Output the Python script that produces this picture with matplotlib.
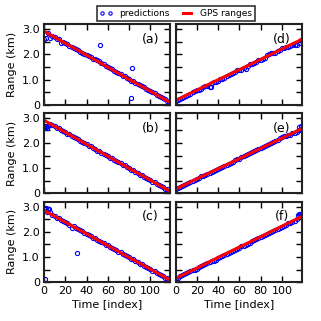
import matplotlib
matplotlib.use('Agg')
import matplotlib.pyplot as plt

# time index of sampled predictions (every 2nd index)
TIME = list(range(0, 120, 2))
# GPS range reference points
GPS_TIME = [0, 20, 40, 60, 80, 100, 120]

GPS_A = [2.92, 2.44, 1.97, 1.49, 1.01, 0.54, 0.06]
GPS_B = [2.90, 2.43, 1.95, 1.48, 1.00, 0.53, 0.05]
GPS_C = [2.85, 2.38, 1.92, 1.45, 0.98, 0.52, 0.05]
GPS_D = [0.17, 0.58, 0.99, 1.39, 1.80, 2.21, 2.62]
GPS_E = [0.17, 0.58, 0.98, 1.38, 1.79, 2.19, 2.60]
GPS_F = [0.15, 0.56, 0.98, 1.39, 1.80, 2.22, 2.63]

PRED_A = [2.62, 2.64, 2.83, 2.64, 2.74, 2.69, 2.62, 2.60, 2.45, 2.50,
          2.45, 2.41, 2.34, 2.31, 2.26, 2.21, 2.17, 2.10, 2.07, 2.02,
          1.96, 1.93, 1.88, 1.83, 1.80, 1.76, 1.72, 1.67, 1.61, 1.55,
          1.50, 1.45, 1.40, 1.34, 1.31, 1.26, 1.21, 1.15, 1.12, 1.07,
          1.02, 0.96, 0.93, 0.88, 0.83, 0.77, 0.74, 0.69, 0.64, 0.58,
          0.55, 0.50, 0.45, 0.40, 0.36, 0.31, 0.26, 0.21, 0.16, 0.11]
PRED_B = [2.60, 2.63, 2.66, 2.77, 2.72, 2.67, 2.61, 2.58, 2.53, 2.46,
          2.44, 2.37, 2.34, 2.27, 2.25, 2.18, 2.15, 2.08, 2.06, 1.99,
          1.96, 1.89, 1.87, 1.80, 1.77, 1.70, 1.68, 1.61, 1.58, 1.51,
          1.49, 1.42, 1.39, 1.32, 1.30, 1.23, 1.20, 1.13, 1.11, 1.04,
          1.01, 0.94, 0.92, 0.85, 0.82, 0.75, 0.73, 0.66, 0.63, 0.56,
          0.54, 0.47, 0.44, 0.37, 0.35, 0.28, 0.25, 0.18, 0.16, 0.09]
PRED_C = [2.93, 2.95, 2.92, 2.78, 2.68, 2.63, 2.55, 2.53, 2.47, 2.44,
          2.37, 2.35, 2.28, 2.14, 2.21, 2.14, 2.11, 2.05, 2.02, 1.95,
          1.93, 1.86, 1.83, 1.77, 1.74, 1.67, 1.65, 1.58, 1.55, 1.49,
          1.46, 1.39, 1.37, 1.30, 1.27, 1.21, 1.18, 1.11, 1.09, 1.02,
          0.99, 0.93, 0.90, 0.83, 0.81, 0.74, 0.71, 0.65, 0.62, 0.55,
          0.53, 0.46, 0.43, 0.37, 0.34, 0.27, 0.25, 0.18, 0.15, 0.09]
PRED_D = [0.15, 0.20, 0.24, 0.28, 0.31, 0.36, 0.40, 0.44, 0.49, 0.53,
          0.57, 0.60, 0.63, 0.69, 0.76, 0.74, 0.69, 0.85, 0.90, 0.92,
          0.96, 1.02, 1.04, 1.08, 1.12, 1.17, 1.20, 1.24, 1.30, 1.37,
          1.37, 1.39, 1.44, 1.40, 1.52, 1.61, 1.63, 1.66, 1.70, 1.76,
          1.79, 1.82, 1.85, 1.96, 2.01, 2.04, 2.04, 2.06, 2.12, 2.18,
          2.24, 2.26, 2.28, 2.30, 2.33, 2.38, 2.36, 2.37, 2.46, 2.55]
PRED_E = [0.16, 0.21, 0.25, 0.30, 0.34, 0.37, 0.41, 0.45, 0.51, 0.55,
          0.57, 0.61, 0.68, 0.70, 0.72, 0.77, 0.83, 0.87, 0.90, 0.93,
          0.98, 1.02, 1.06, 1.09, 1.13, 1.17, 1.21, 1.25, 1.31, 1.36,
          1.38, 1.43, 1.49, 1.54, 1.55, 1.59, 1.64, 1.70, 1.74, 1.78,
          1.81, 1.83, 1.88, 1.94, 1.97, 2.00, 2.04, 2.07, 2.14, 2.18,
          2.24, 2.26, 2.27, 2.30, 2.33, 2.38, 2.40, 2.45, 2.52, 2.57]
PRED_F = [0.13, 0.18, 0.23, 0.27, 0.31, 0.35, 0.39, 0.44, 0.47, 0.50,
          0.54, 0.60, 0.65, 0.69, 0.73, 0.77, 0.80, 0.85, 0.84, 0.89,
          0.97, 1.01, 1.05, 1.08, 1.11, 1.16, 1.19, 1.24, 1.28, 1.33,
          1.37, 1.42, 1.45, 1.49, 1.53, 1.57, 1.62, 1.67, 1.71, 1.74,
          1.78, 1.82, 1.86, 1.93, 1.95, 1.98, 2.02, 2.06, 2.10, 2.15,
          2.18, 2.23, 2.27, 2.33, 2.35, 2.39, 2.44, 2.50, 2.69, 2.68]

# extra (odd-index / outlier) predictions
EXTRA_T_A = [53, 83, 82]
EXTRA_R_A = [2.35, 1.44, 0.28]
EXTRA_T_B = [1, 3]
EXTRA_R_B = [2.66, 2.58]
EXTRA_T_C = [31, 1, 3, 5]
EXTRA_R_C = [1.14, 0.12, 2.80, 2.90]
EXTRA_T_D = [33]
EXTRA_R_D = [0.70]
EXTRA_T_E = [118, 116]
EXTRA_R_E = [2.68, 2.62]
EXTRA_T_F = [115, 117]
EXTRA_R_F = [2.68, 2.70]

LABELS = ['(a)', '(b)', '(c)', '(d)', '(e)', '(f)']
PANELS = [
    (GPS_A, PRED_A, EXTRA_T_A, EXTRA_R_A),
    (GPS_B, PRED_B, EXTRA_T_B, EXTRA_R_B),
    (GPS_C, PRED_C, EXTRA_T_C, EXTRA_R_C),
    (GPS_D, PRED_D, EXTRA_T_D, EXTRA_R_D),
    (GPS_E, PRED_E, EXTRA_T_E, EXTRA_R_E),
    (GPS_F, PRED_F, EXTRA_T_F, EXTRA_R_F),
]


def draw_panel(ax, gps, pred, extra_t, extra_r, label):
    ax.plot(TIME + extra_t, pred + extra_r, 'o', linestyle='none',
            markerfacecolor='none', markeredgecolor='blue',
            markersize=3.0, markeredgewidth=0.8, label='predictions')
    ax.plot(GPS_TIME, gps, color='red', linewidth=2.2, label='GPS ranges')
    ax.set_xlim(0, 119)
    ax.set_ylim(0, 3.2)
    ax.set_xticks([0, 20, 40, 60, 80, 100])
    ax.set_yticks([0, 0.5, 1.0, 1.5, 2.0, 2.5, 3.0])
    ax.set_yticklabels(['0', '', '1.0', '', '2.0', '', '3.0'])
    ax.tick_params(direction='in', top=True, right=True, length=4,
                   width=1, labelsize=8, pad=3)
    for s in ax.spines.values():
        s.set_linewidth(1.5)
        s.set_color('#222222')
    ax.text(0.84, 0.81, label, transform=ax.transAxes, fontsize=9,
            ha='center', va='center')


def main():
    fig, axes = plt.subplots(3, 2, figsize=(3.21, 3.21), dpi=100)
    fig.subplots_adjust(left=0.137, right=0.941, top=0.925, bottom=0.121,
                        wspace=0.04, hspace=0.1)

    for i, (gps, pred, et, er) in enumerate(PANELS):
        col, row = divmod(i, 3)
        ax = axes[row][col]
        draw_panel(ax, gps, pred, et, er, LABELS[i])
        if col == 0:
            ax.set_ylabel('Range (km)', fontsize=8)
        else:
            ax.set_yticklabels([])
        if row == 2:
            ax.set_xlabel('Time [index]', fontsize=8, labelpad=2)
        else:
            ax.set_xticklabels([])

    handles, labels = axes[0][0].get_legend_handles_labels()
    leg = fig.legend(handles, labels, loc='upper center',
                     bbox_to_anchor=(0.548, 0.995), ncol=2, fontsize=6.5,
                     numpoints=2, markerscale=0.8, frameon=True,
                     fancybox=False, borderpad=0.3, handlelength=1.5,
                     columnspacing=1.2, handletextpad=0.7)
    leg.get_frame().set_edgecolor('black')
    leg.get_frame().set_linewidth(1.2)

    fig.savefig('out.png', dpi=100)


if __name__ == "__main__":
    main()
